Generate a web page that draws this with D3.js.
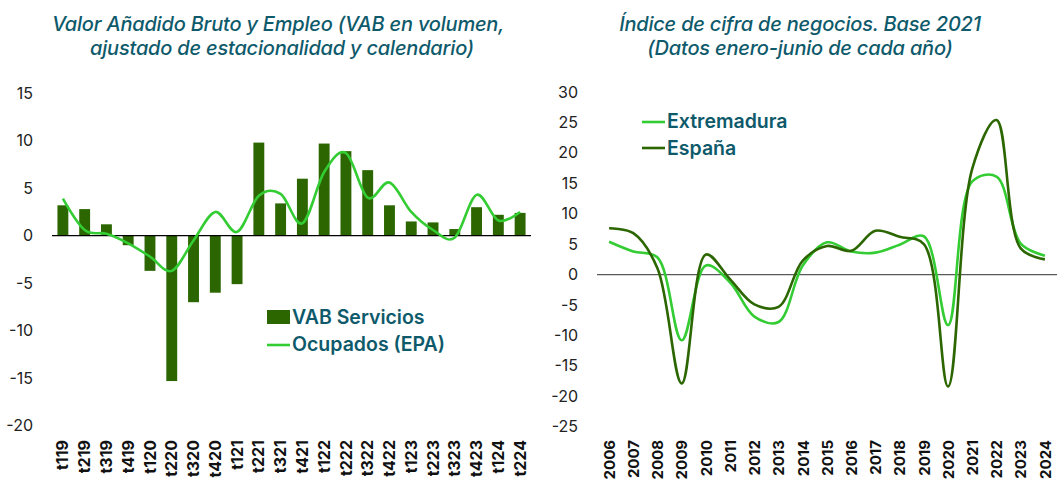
<!DOCTYPE html>
<html>
<head>
<meta charset="utf-8">
<script src="https://cdn.jsdelivr.net/npm/d3@7"></script>
<style>
  body { margin: 0; background: #fff; }
  svg { display: block; }
  .title { font-family: Inter, "Open Sans", sans-serif; font-style: italic; font-weight: 500; font-size: 20px; fill: #0e5a6b; letter-spacing: -0.2px; }
  .ytick text { font-family: Inter, Roboto, sans-serif; font-size: 16px; fill: #222; }
  .xlab { font-family: Inter, Roboto, sans-serif; font-size: 16px; font-weight: bold; fill: #111; }
  .xlab2 { font-family: Inter, Roboto, sans-serif; font-size: 15px; font-weight: bold; fill: #111; }
  .legend { font-family: Inter, Roboto, sans-serif; font-size: 19.5px; font-weight: 600; fill: #0e5a6b; }
</style>
</head>
<body>
<div id="chart"></div>
<script>
// left chart: quarters, VAB servicios (bars) and ocupados EPA (line)
var quarters = ['t119','t219','t319','t419','t120','t220','t320','t420','t121','t221','t321','t421',
                't122','t222','t322','t422','t123','t223','t323','t423','t124','t224'];
var vabServicios = [3.2, 2.8, 1.2, -1.0, -3.7, -15.3, -7.0, -6.0, -5.1, 9.8, 3.4, 6.0,
                    9.7, 8.9, 6.9, 3.2, 1.5, 1.4, 0.7, 3.0, 2.2, 2.4];
var ocupadosEPA = [3.9, 0.6, 0.2, -0.8, -2.2, -3.7, -0.5, 2.5, 0.4, 4.2, 4.4, 1.3,
                   6.7, 8.7, 4.0, 5.6, 2.5, 0.6, -0.2, 4.3, 1.6, 2.5];
var leftTicks = [15, 10, 5, 0, -5, -10, -15, -20];

// right chart: indice cifra de negocios
var years = ['2006','2007','2008','2009','2010','2011','2012','2013','2014','2015',
             '2016','2017','2018','2019','2020','2021','2022','2023','2024'];
var extremadura = [5.4, 3.8, 2.8, -10.8, 1.5, -1.3, -6.9, -7.8, 1.5, 5.3,
                   3.8, 3.6, 4.9, 6.3, -8.3, 15.3, 16.1, 5.1, 3.1];
var espana = [7.6, 6.8, 1.0, -17.9, 3.3, -0.8, -4.9, -5.3, 2.3, 4.7,
              3.9, 7.2, 6.2, 5.0, -18.4, 17.4, 25.4, 4.3, 2.5];
var rightTicks = [30, 25, 20, 15, 10, 5, 0, -5, -10, -15, -20, -25];

var darkGreen = '#2b6600';
var lightGreen = '#33cc33';
var plain = function(d) { return String(d); };

var svg = d3.select('#chart').append('svg')
  .attr('width', 1057)
  .attr('height', 480);

// ---------- left chart ----------
var x1 = d3.scaleBand()
  .domain(quarters)
  .range([52, 531])
  .paddingInner(0.5)
  .paddingOuter(0.25);
var y1 = d3.scaleLinear()
  .domain([-20, 15])
  .range([425.7, 93.2]);

svg.append('text').attr('class', 'title')
  .attr('x', 278).attr('y', 31).attr('text-anchor', 'middle')
  .text('Valor Añadido Bruto y Empleo (VAB en volumen,');
svg.append('text').attr('class', 'title')
  .attr('x', 282).attr('y', 55).attr('text-anchor', 'middle')
  .text('ajustado de estacionalidad y calendario)');

var yAxis1 = svg.append('g').attr('class', 'ytick')
  .attr('transform', 'translate(52,0)')
  .call(d3.axisLeft(y1).tickValues(leftTicks).tickFormat(plain).tickSize(0).tickPadding(19));
yAxis1.select('.domain').remove();

svg.append('g').selectAll('rect')
  .data(quarters)
  .enter().append('rect')
  .attr('x', function(d) { return x1(d); })
  .attr('width', x1.bandwidth())
  .attr('y', function(d, i) { return y1(Math.max(0, vabServicios[i])); })
  .attr('height', function(d, i) { return Math.abs(y1(vabServicios[i]) - y1(0)); })
  .attr('fill', darkGreen);

svg.append('line')
  .attr('x1', 52).attr('x2', 531)
  .attr('y1', y1(0)).attr('y2', y1(0))
  .attr('stroke', '#000').attr('stroke-width', 1.2);

svg.append('path')
  .datum(quarters)
  .attr('fill', 'none')
  .attr('stroke', lightGreen)
  .attr('stroke-width', 2.6)
  .attr('d', d3.line()
    .curve(d3.curveCardinal)
    .x(function(d) { return x1(d) + x1.bandwidth() / 2; })
    .y(function(d, i) { return y1(ocupadosEPA[i]); }));

var xAxis1 = svg.append('g')
  .call(d3.axisBottom(x1).tickSize(0));
xAxis1.select('.domain').remove();
xAxis1.selectAll('text')
  .attr('class', 'xlab')
  .attr('transform', 'rotate(-90)')
  .attr('x', -440).attr('y', 0).attr('dy', '0.35em')
  .style('text-anchor', 'end');
xAxis1.attr('font-size', null).attr('font-family', null);

// legend left
svg.append('rect').attr('x', 267).attr('y', 310).attr('width', 23).attr('height', 14).attr('fill', darkGreen);
svg.append('text').attr('class', 'legend').attr('x', 292).attr('y', 324).text('VAB Servicios');
svg.append('line').attr('x1', 267).attr('x2', 290).attr('y1', 345).attr('y2', 345)
  .attr('stroke', lightGreen).attr('stroke-width', 2.6);
svg.append('text').attr('class', 'legend').attr('x', 292).attr('y', 351).text('Ocupados (EPA)');

// ---------- right chart ----------
var x2 = d3.scalePoint()
  .domain(years)
  .range([597, 1057])
  .padding(0.5);
var y2 = d3.scaleLinear()
  .domain([-25, 30])
  .range([426.7, 92]);

svg.append('text').attr('class', 'title')
  .attr('x', 800).attr('y', 31).attr('text-anchor', 'middle')
  .text('Índice de cifra de negocios. Base 2021');
svg.append('text').attr('class', 'title')
  .attr('x', 800).attr('y', 55).attr('text-anchor', 'middle')
  .text('(Datos enero-junio de cada año)');

var yAxis2 = svg.append('g').attr('class', 'ytick')
  .attr('transform', 'translate(597,0)')
  .call(d3.axisLeft(y2).tickValues(rightTicks).tickFormat(plain).tickSize(0).tickPadding(19));
yAxis2.select('.domain').remove();

svg.append('line')
  .attr('x1', 597).attr('x2', 1057)
  .attr('y1', y2(0)).attr('y2', y2(0))
  .attr('stroke', '#595959').attr('stroke-width', 1.2);

var line2 = function(vals) {
  return d3.line()
    .curve(d3.curveCatmullRom.alpha(0.5))
    .x(function(d) { return x2(d); })
    .y(function(d, i) { return y2(vals[i]); })(years);
};
svg.append('path').attr('fill', 'none').attr('stroke', lightGreen).attr('stroke-width', 2.6)
  .attr('d', line2(extremadura));
svg.append('path').attr('fill', 'none').attr('stroke', darkGreen).attr('stroke-width', 2.6)
  .attr('d', line2(espana));

var xAxis2 = svg.append('g')
  .call(d3.axisBottom(x2).tickSize(0));
xAxis2.select('.domain').remove();
xAxis2.selectAll('text')
  .attr('class', 'xlab2')
  .attr('transform', 'rotate(-90)')
  .attr('x', -440).attr('y', 0).attr('dy', '0.35em')
  .style('text-anchor', 'end');
xAxis2.attr('font-size', null).attr('font-family', null);

// legend right
svg.append('line').attr('x1', 642).attr('x2', 665).attr('y1', 122).attr('y2', 122)
  .attr('stroke', lightGreen).attr('stroke-width', 2.6);
svg.append('text').attr('class', 'legend').attr('x', 667).attr('y', 128).text('Extremadura');
svg.append('line').attr('x1', 642).attr('x2', 665).attr('y1', 148).attr('y2', 148)
  .attr('stroke', darkGreen).attr('stroke-width', 2.6);
svg.append('text').attr('class', 'legend').attr('x', 667).attr('y', 155).text('España');

yAxis1.attr('font-size', null).attr('font-family', null);
yAxis2.attr('font-size', null).attr('font-family', null);
</script>
</body>
</html>
